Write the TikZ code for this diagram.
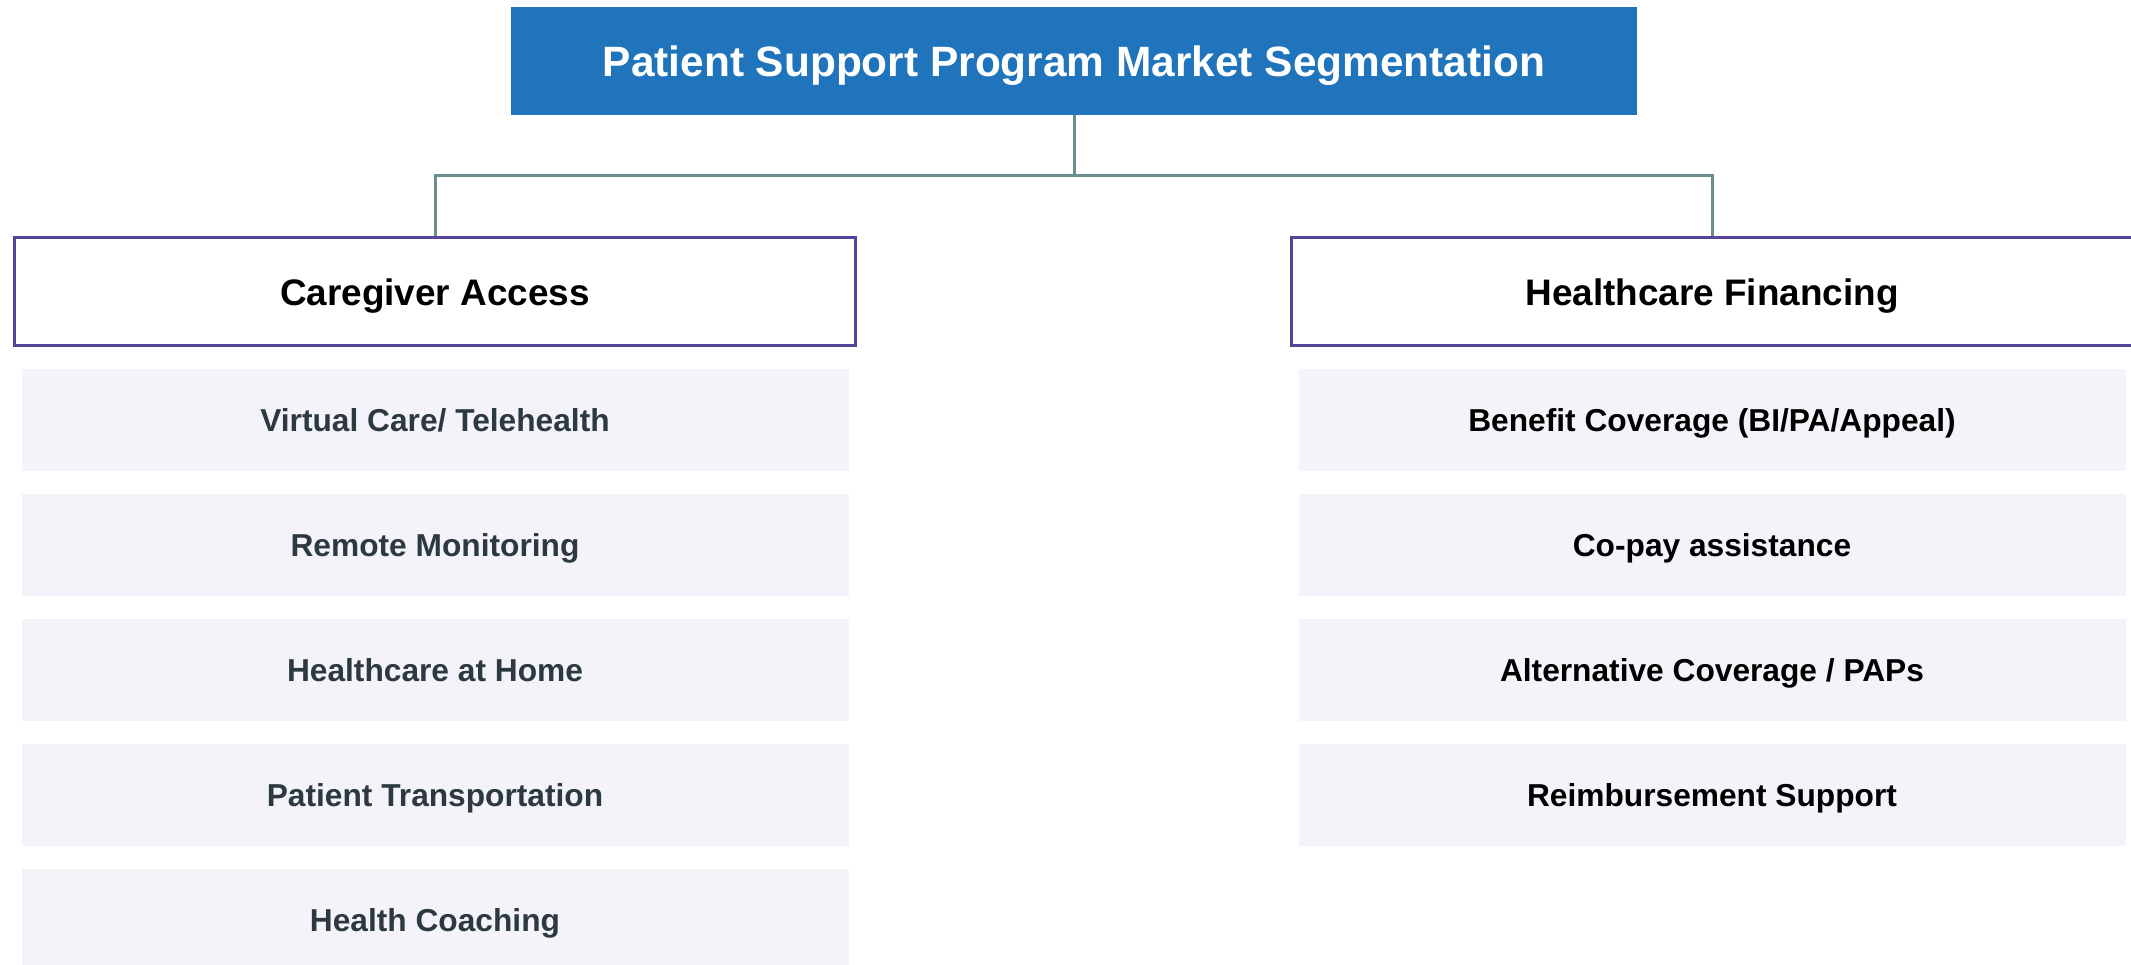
\documentclass[tikz,border=0pt]{standalone}
\usepackage{fontspec}
\setmainfont{Liberation Sans}
\definecolor{titleblue}{RGB}{31,116,188}
\definecolor{headpurple}{RGB}{85,68,154}
\definecolor{linkteal}{RGB}{104,142,142}
\definecolor{itemfill}{RGB}{243,243,249}
\definecolor{itemdark}{RGB}{45,57,64}
\tikzset{
  titlebox/.style={rectangle, fill=titleblue, draw=none, text=white, inner sep=0pt,
    minimum width=1126pt, minimum height=108pt, font=\fontsize{42.4pt}{50pt}\selectfont\bfseries,
    text height=30.4pt, text depth=0pt},
  headbox/.style={rectangle, fill=white, draw=headpurple, line width=3pt, text=black, inner sep=0pt,
    minimum width=841pt, minimum height=108pt, font=\fontsize{36.9pt}{44pt}\selectfont\bfseries,
    text height=26.4pt, text depth=0pt},
  itembox/.style={rectangle, fill=itemfill, draw=none, inner sep=0pt,
    minimum width=827pt, minimum height=102pt, font=\fontsize{31.7pt}{38pt}\selectfont\bfseries,
    text height=22.7pt, text depth=0pt},
  leftitem/.style={itembox, text=itemdark},
  rightitem/.style={itembox, text=black},
  link/.style={draw=linkteal, line width=3pt}
}
\begin{document}
\begin{tikzpicture}[x=1pt, y=-1pt]
\useasboundingbox (0,0) rectangle (2131,965);
\begin{scope}
\clip (0,0) rectangle (2131,965);
\node[titlebox] (title) at (1074,61) {Patient Support Program Market Segmentation};
\node[headbox] (left) at (435,292) {Caregiver Access};
\node[headbox] (right) at (1712,292) {Healthcare Financing};
\coordinate (junction) at (1074,176);
\draw[link] (title.south) -- (junction);
\draw[link] (left.north) |- (junction) -| (right.north);
\node[leftitem] (l1) at (435,420) {Virtual Care/ Telehealth};
\node[leftitem] (l2) at (435,545) {Remote Monitoring};
\node[leftitem] (l3) at (435,670) {Healthcare at Home};
\node[leftitem] (l4) at (435,795) {Patient Transportation};
\node[leftitem] (l5) at (435,920) {Health Coaching};
\node[rightitem] (r1) at (1712,420) {Benefit Coverage (BI/PA/Appeal)};
\node[rightitem] (r2) at (1712,545) {Co-pay assistance};
\node[rightitem] (r3) at (1712,670) {Alternative Coverage / PAPs};
\node[rightitem] (r4) at (1712,795) {Reimbursement Support};
\end{scope}
\end{tikzpicture}
\end{document}
